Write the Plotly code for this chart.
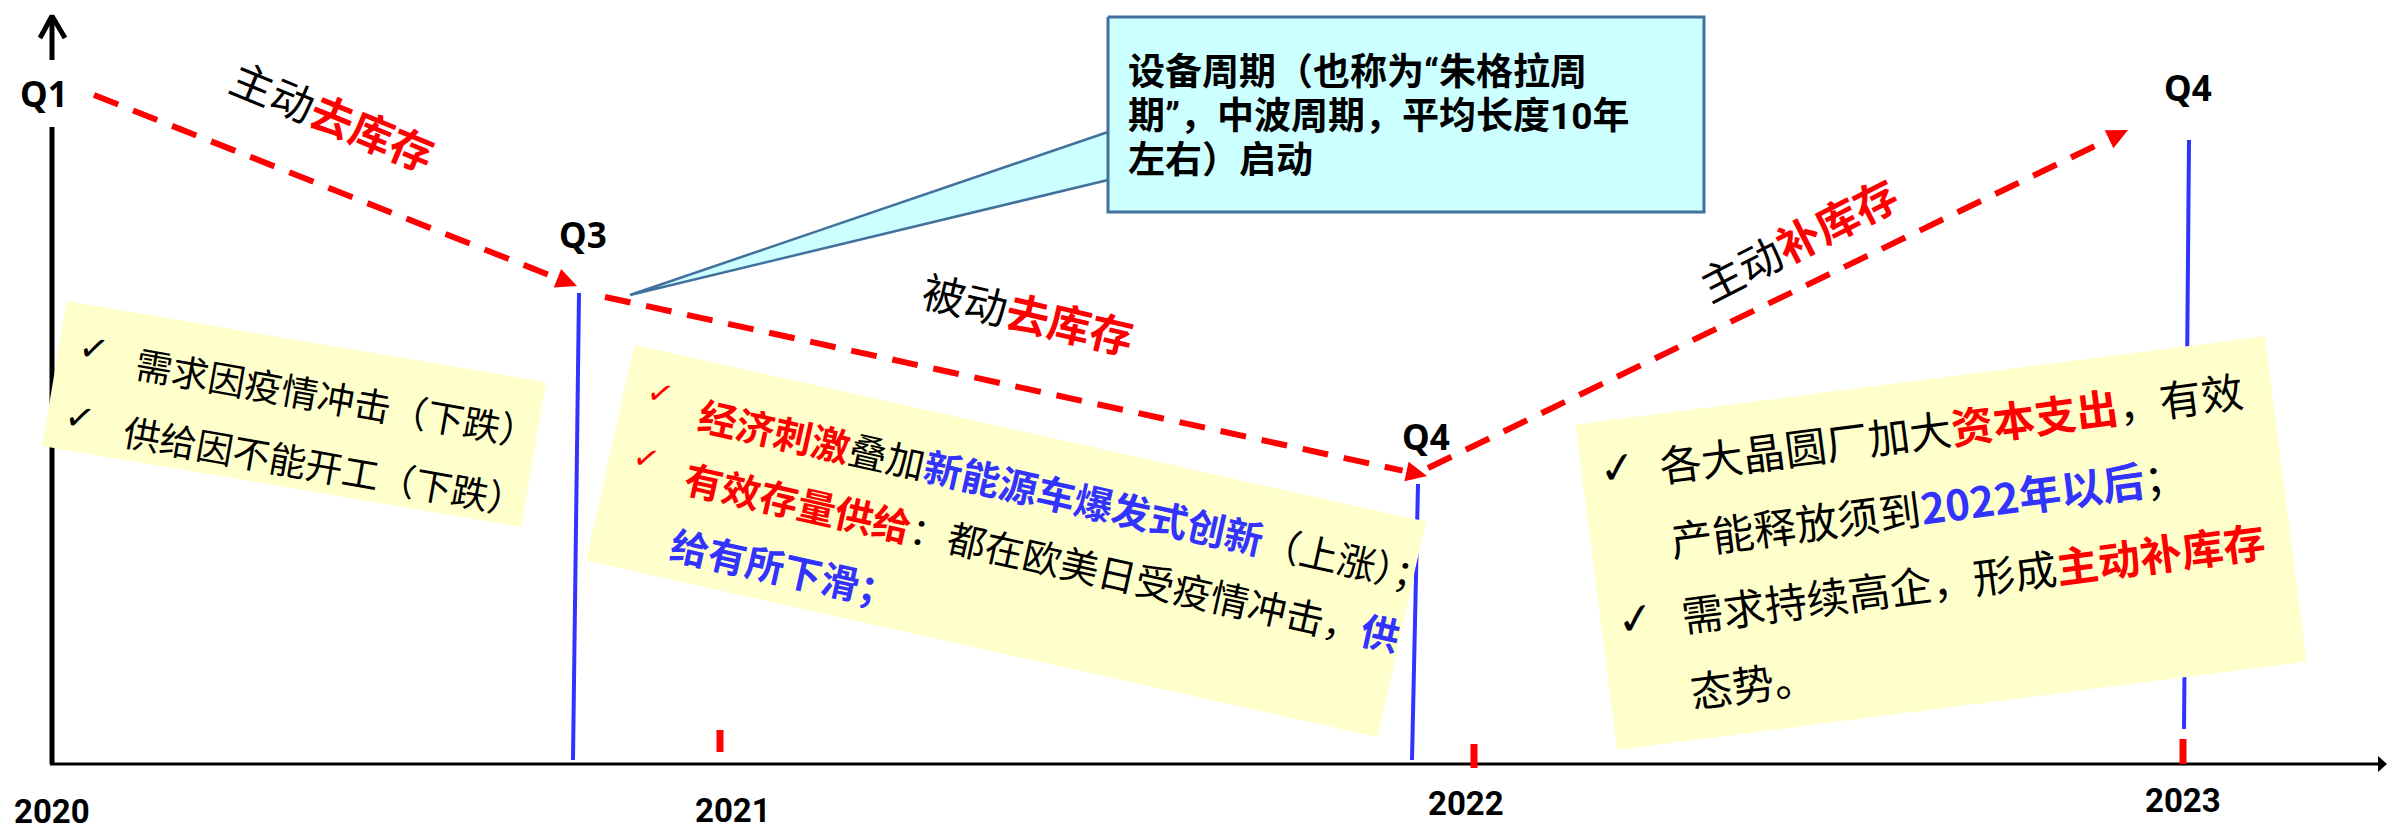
import math
import plotly.graph_objects as go

CANVAS_W, CANVAS_H = 2387, 832

RED = "#FF0000"
BLUE = "#3333FF"
NOTE_FILL = "#FFFFCC"
CALLOUT_FILL = "#CCFFFF"
CALLOUT_EDGE = "#41719C"
CJK = "Noto Sans CJK SC"
LATIN = "Noto Sans"
COMPACT = "Roboto, Noto Sans CJK SC"

# ---------------- schematic data ----------------
# turning points of the inventory cycle
turn_names = ["Q1", "Q3", "Q4", "Q4"]
turn_label_x = [44, 583, 1426, 2188]
turn_label_y = [93, 234, 436, 87]

# three inventory stages drawn as dashed arrows (start -> tip)
stage_prefix = ["主动", "被动", "主动"]
stage_suffix = ["去库存", "去库存", "补库存"]
stage_x0 = [94, 605, 1428]
stage_y0 = [95, 297, 468]
stage_x1 = [577, 1427, 2128]
stage_y1 = [286, 476, 130]
stage_label_x = [333, 1028, 1797]
stage_label_y = [114, 312, 238]
stage_label_angle = [22.4, 13.2, -27.0]

# quarter markers (blue verticals)
qline_x_top = [579, 1418, 2189]
qline_y_top = [293, 484, 140]
qline_x_bot = [573, 1412, 2184]
qline_y_bot = [760, 760, 729]

# time axis
years = ["2020", "2021", "2022", "2023"]
year_x = [52, 733, 1466, 2183]
year_y = [811, 810, 803, 800]
year_tick_x = [720, 1474, 2183]
year_tick_top = [730, 744, 739]
year_tick_bot = [752, 768, 764]

# callout text
callout_lines = [
    "设备周期（也称为“朱格拉周",
    "期”，中波周期，平均长度10年",
    "左右）启动",
]

# note boxes: (segments per line); each segment = (text, colour, bold)
note1_lines = [
    [("需求因疫情冲击（下跌）", "black", False)],
    [("供给因不能开工（下跌）", "black", False)],
]
note2_lines = [
    [("经济刺激", RED, True), ("叠加", "black", False),
     ("新能源车爆发式创新", BLUE, True), ("（上涨）；", "black", False)],
    [("有效存量供给", RED, True), ("：都在欧美日受疫情冲击，", "black", False),
     ("供", BLUE, True)],
    [("给有所下滑；", BLUE, True)],
]
note3_lines = [
    [("各大晶圆厂加大", "black", False), ("资本支出", RED, True), ("，有效", "black", False)],
    [("产能释放须到", "black", False), ("2022年以后", BLUE, True), ("；", "black", False)],
    [("需求持续高企，形成", "black", False), ("主动补库存", RED, True)],
    [("态势。", "black", False)],
]

# ---------------- geometry helpers ----------------
def unit(deg):
    r = math.radians(deg)
    return math.cos(r), math.sin(r)


def rect_corners(cx, cy, w, h, deg):
    ux, uy = unit(deg)
    vx, vy = -uy, ux
    pts = []
    for sx, sy in [(-1, -1), (1, -1), (1, 1), (-1, 1), (-1, -1)]:
        pts.append((cx + sx * w / 2 * ux + sy * h / 2 * vx,
                    cy + sx * w / 2 * uy + sy * h / 2 * vy))
    return [p[0] for p in pts], [p[1] for p in pts]


def arrow_head(x0, y0, x1, y1, length=21, half=10):
    d = math.hypot(x1 - x0, y1 - y0)
    ux, uy = (x1 - x0) / d, (y1 - y0) / d
    bx, by = x1 - ux * length, y1 - uy * length
    xs = [x1, bx - uy * half, bx + uy * half, x1]
    ys = [y1, by + ux * half, by - ux * half, y1]
    return xs, ys, (bx - ux * 4, by - uy * 4)


def rich(segments):
    out = []
    for text, colour, bold in segments:
        t = f"<b>{text}</b>" if bold else text
        out.append(f"<span style='color:{colour}'>{t}</span>")
    return "".join(out)


fig = go.Figure()


def add_poly(xs, ys, fill=None, line_color=None, width=0, dash=None):
    fig.add_trace(go.Scatter(
        x=xs, y=ys, mode="lines",
        fill="toself" if fill else None,
        fillcolor=fill,
        line=dict(color=line_color or "rgba(0,0,0,0)", width=width, dash=dash),
        hoverinfo="skip", showlegend=False,
    ))


# ---------------- axes ----------------
ox, oy = 52, 764
add_poly([ox, ox], [127, oy], line_color="black", width=5)            # vertical axis
add_poly([40, ox, 65, None, ox, ox], [38, 16, 38, None, 16, 60],
         line_color="black", width=5)                                     # top arrow
add_poly([ox - 2, 2378], [oy, oy], line_color="black", width=3)        # time axis
add_poly([2378, 2387, 2378, 2378], [756, oy, 772, 756], fill="black")  # arrow tip

# quarter markers and year ticks
for xt, yt, xb, yb in zip(qline_x_top, qline_y_top, qline_x_bot, qline_y_bot):
    add_poly([xt, xb], [yt, yb], line_color=BLUE, width=4)
for xt, yt, yb in zip(year_tick_x, year_tick_top, year_tick_bot):
    add_poly([xt, xt], [yt, yb], line_color=RED, width=7)

# dashed stage arrows
for x0, y0, x1, y1 in zip(stage_x0, stage_y0, stage_x1, stage_y1):
    hx, hy, (ex, ey) = arrow_head(x0, y0, x1, y1)
    add_poly([x0, ex], [y0, ey], line_color=RED, width=6, dash="26px,16px")
    add_poly(hx, hy, fill=RED)

# yellow note boxes (centre, width, height, angle)
note_boxes = [
    (294, 414, 486, 147, 9.6),
    (1006, 541, 811, 221, 12.6),
    (1941, 543, 695, 328, -7.3),
]
for cx, cy, w, h, a in note_boxes:
    xs, ys = rect_corners(cx, cy, w, h, a)
    add_poly(xs, ys, fill=NOTE_FILL)

# callout
add_poly([1108, 630, 1108], [132, 295, 180], fill=CALLOUT_FILL,
         line_color=CALLOUT_EDGE, width=2.5)
add_poly([1108, 1704, 1704, 1108, 1108], [17, 17, 212, 212, 17],
         fill=CALLOUT_FILL, line_color=CALLOUT_EDGE, width=3)

# ---------------- texts ----------------
annotations = []


def text_line(x0, y0, deg, html, size, box_w=800):
    ux, uy = unit(deg)
    annotations.append(dict(
        x=x0 + ux * box_w / 2, y=y0 + uy * box_w / 2, xref="x", yref="y",
        text=html, showarrow=False, textangle=deg, width=box_w, align="left",
        xanchor="center", yanchor="middle", borderpad=0, borderwidth=0,
        font=dict(family=CJK, size=size, color="black"),
    ))


def centred(x, y, html, size, family=CJK, deg=0, color="black"):
    annotations.append(dict(
        x=x, y=y, xref="x", yref="y", text=html, showarrow=False,
        textangle=deg, xanchor="center", yanchor="middle",
        borderpad=0, borderwidth=0,
        font=dict(family=family, size=size, color=color),
    ))


for name, x, y in zip(turn_names, turn_label_x, turn_label_y):
    centred(x, y, f"<b>{name}</b>", 35, family=LATIN)

for name, x, y in zip(years, year_x, year_y):
    centred(x, y, f"<b>{name}</b>", 33, family="Roboto")

for pre, suf, x, y, a in zip(stage_prefix, stage_suffix, stage_label_x,
                             stage_label_y, stage_label_angle):
    centred(x, y, f"{pre}<span style='color:{RED}'><b>{suf}</b></span>", 43, deg=a)

for i, line in enumerate(callout_lines):
    annotations.append(dict(
        x=1128, y=72 + 44 * i, xref="x", yref="y", text=f"<b>{line}</b>",
        showarrow=False, xanchor="left", yanchor="middle",
        borderpad=0, borderwidth=0,
        font=dict(family=COMPACT, size=37, color="black"),
    ))

# note 1
note1_starts = [(136, 362), (124, 430)]
for (x0, y0), segs in zip(note1_starts, note1_lines):
    text_line(x0, y0, 10.0, rich(segs), 37)
for x, y in [(94, 348), (80, 417)]:
    centred(x, y, "✓", 36, family="DejaVu Sans", deg=10)

# note 2
note2_starts = [(700, 413), (686, 476), (672, 542)]
for (x0, y0), segs in zip(note2_starts, note2_lines):
    text_line(x0, y0, 12.6, rich(segs), 38.5)
for x, y in [(660, 393), (646, 458)]:
    centred(x, y, "✓", 32, family="DejaVu Sans", deg=12.6, color=RED)

# note 3
note3_starts = [(1659, 464), (1670, 539), (1681, 614), (1690, 690)]
for (x0, y0), segs in zip(note3_starts, note3_lines):
    text_line(x0, y0, -7.4, rich(segs), 42)
for x, y in [(1617, 467), (1635, 618)]:
    centred(x, y, "✓", 44, family="DejaVu Sans", deg=-7.4)

fig.update_layout(
    width=CANVAS_W, height=CANVAS_H,
    margin=dict(l=0, r=0, t=0, b=0),
    paper_bgcolor="white", plot_bgcolor="white",
    showlegend=False,
    xaxis=dict(range=[0, CANVAS_W], visible=False, fixedrange=True),
    yaxis=dict(range=[CANVAS_H, 0], visible=False, fixedrange=True),
    annotations=annotations,
)

fig.write_html("out.html", config={"displayModeBar": False})
